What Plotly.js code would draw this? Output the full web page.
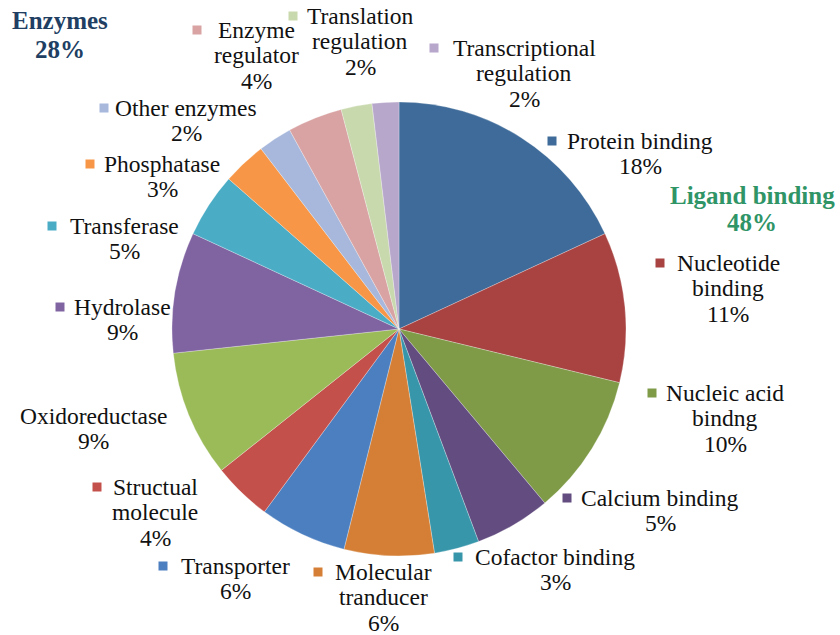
<!DOCTYPE html>
<html>
<head>
<meta charset="utf-8">
<script src="https://cdn.plot.ly/plotly-3.0.1.min.js"></script>
<style>
  html, body { margin: 0; padding: 0; background: #ffffff; }
  #chart { width: 840px; height: 635px; }
</style>
</head>
<body>
<div id="chart"></div>
<script>
// ---- data ----
const categories = [
  "Protein binding", "Nucleotide<br>binding", "Nucleic acid<br>bindng", "Calcium binding",
  "Cofactor binding", "Molecular<br>tranducer", "Transporter", "Structual<br>molecule",
  "Oxidoreductase", "Hydrolase", "Transferase", "Phosphatase",
  "Other enzymes", "Enzyme<br>regulator", "Translation<br>regulation", "Transcriptional<br>regulation"
];
const values = [18.1, 10.7, 10.1, 5.4, 3.2, 6.4, 6.2, 4.2, 9.0, 8.6, 4.6, 3.1, 2.4, 3.9, 2.2, 1.9];
const pctLabels = ["18%", "11%", "10%", "5%", "3%", "6%", "6%", "4%", "9%", "9%", "5%", "3%", "2%", "4%", "2%", "2%"];
const groupNames = ["Enzymes", "Ligand binding"];
const groupPct = ["28%", "48%"];

// ---- styles / layout ----
const FONT = "Liberation Serif";
const colors = [
  "#3e6b99", "#a84342", "#7f9b48", "#634c80", "#3896ab", "#d47f35",
  "#4c7fc0", "#c4504c", "#9bbb59", "#8064a2", "#4bacc6", "#f79646",
  "#a7b8dc", "#d9a3a3", "#c8d9ad", "#b7a7cb"
];
// label placement in pixels: centre x, first-line y, square x (null = no square)
const labelPos = [
  [640, 141, 552], [728, 263, 660], [725, 393, 652], [660, 498, 567],
  [555, 557, 458], [383, 572, 318], [235, 566, 163], [155, 487, 97],
  [93, 416, null], [122, 307, 60], [124, 226, 52], [162, 164, 90],
  [186, 108, 104], [256, 30, 197], [360, 16, 293], [524, 48, 434]
];
const groupPos = [[60, 21, "#213e63"], [752, 195, "#2f9466"]];
const W = 840, H = 635, LINE = 25.3;
const cx = 399, cy = 329, R = 227;

const px = x => x / W;
const py = y => 1 - y / H;

const annotations = [];
const shapes = [];
categories.forEach((c, i) => {
  const lines = (c + "<br>" + pctLabels[i]).split("<br>");
  const [x, y0, sx] = labelPos[i];
  lines.forEach((t, k) => {
    annotations.push({
      xref: "paper", yref: "paper", x: px(x), y: py(y0 + k * LINE),
      xanchor: "center", yanchor: "middle", showarrow: false,
      text: t, font: {family: FONT, size: 23.5, color: "#111111"}
    });
  });
  if (sx !== null) {
    shapes.push({
      type: "rect", xref: "paper", yref: "paper",
      x0: px(sx - 4.5), x1: px(sx + 4.5), y0: py(y0 + 4.5), y1: py(y0 - 4.5),
      fillcolor: colors[i], line: {width: 0}
    });
  }
});
groupNames.forEach((g, i) => {
  const [x, y0, col] = groupPos[i];
  [g, groupPct[i]].forEach((t, k) => {
    annotations.push({
      xref: "paper", yref: "paper", x: px(x), y: py(y0 + k * 28),
      xanchor: "center", yanchor: "middle", showarrow: false,
      text: "<b>" + t + "</b>",
      font: {family: FONT, size: 25, color: col}
    });
  });
});

const trace = {
  type: "pie",
  labels: categories,
  values: values,
  sort: false,
  direction: "clockwise",
  rotation: 0,
  textinfo: "none",
  hoverinfo: "label+percent",
  marker: {colors: colors, line: {color: "rgba(255,255,255,0.45)", width: 0.6}},
  domain: {x: [px(cx - R), px(cx + R)], y: [py(cy + R), py(cy - R)]},
  showlegend: false
};

const layout = {
  width: W, height: H,
  margin: {l: 0, r: 0, t: 0, b: 0},
  paper_bgcolor: "#ffffff",
  plot_bgcolor: "#ffffff",
  font: {family: FONT},
  showlegend: false,
  annotations: annotations,
  shapes: shapes
};

Plotly.newPlot("chart", [trace], layout, {displayModeBar: false, staticPlot: true});
</script>
</body>
</html>
